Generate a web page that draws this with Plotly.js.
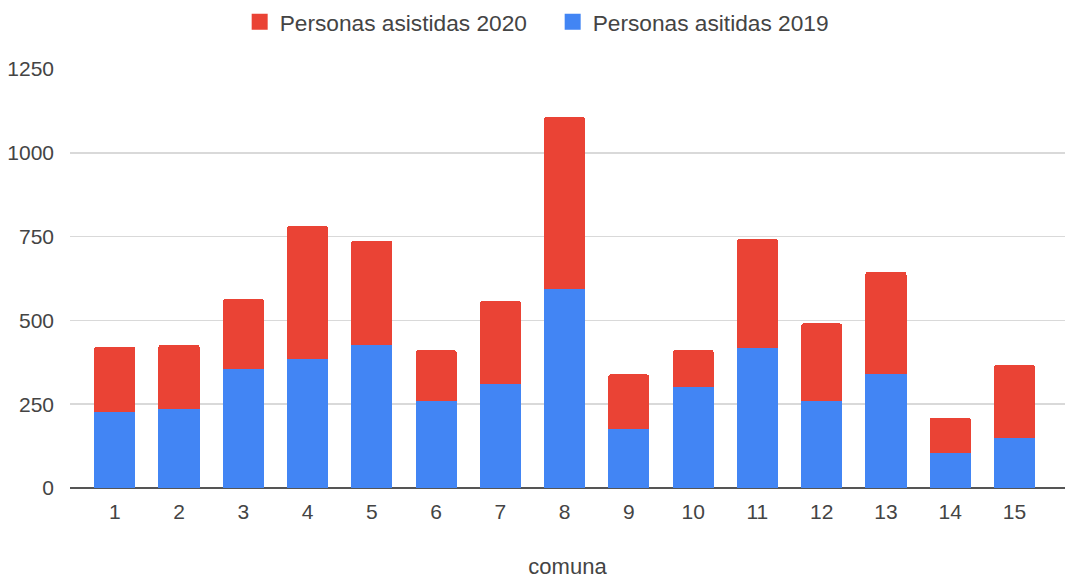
<!DOCTYPE html>
<html>
<head>
<meta charset="utf-8">
<script src="https://cdn.plot.ly/plotly-3.0.1.min.js"></script>
<style>html,body{margin:0;padding:0;background:#fff}#chart{width:1069px;height:579px}</style>
</head>
<body>
<div id="chart"></div>
<script>
const comunas = ["1","2","3","4","5","6","7","8","9","10","11","12","13","14","15"];
const asistidas2019 = [228, 237, 356, 385, 428, 260, 311, 594, 175, 300, 418, 261, 340, 104, 149];
const asistidas2020 = [194, 191, 208, 398, 310, 151, 247, 513, 164, 112, 326, 230, 305, 106, 218];
const yTicks = [0, 250, 500, 750, 1000, 1250];
const names = ["Personas asistidas 2020", "Personas asitidas 2019"];
const colors = ["#EA4335", "#4285F4"];

const traces = [
  {type: "bar", name: names[1], x: comunas, y: asistidas2019, showlegend: false,
   marker: {color: colors[1]}},
  {type: "bar", name: names[0], x: comunas, y: asistidas2020, showlegend: false,
   marker: {color: colors[0]}},
  // legend-only entries with larger square swatches
  {type: "scatter", mode: "markers", name: names[0], x: [null], y: [null],
   marker: {symbol: "square", size: 16, color: colors[0]}, hoverinfo: "skip"},
  {type: "scatter", mode: "markers", name: names[1], x: [null], y: [null],
   marker: {symbol: "square", size: 16, color: colors[1]}, hoverinfo: "skip"}
];

const layout = {
  width: 1069, height: 579,
  margin: {l: 70, r: 4, t: 69, b: 91},
  paper_bgcolor: "#fff", plot_bgcolor: "#fff",
  barmode: "stack", bargap: 0.36, barcornerradius: 3,
  font: {family: "'Liberation Sans', Arial, sans-serif", size: 21, color: "#444"},
  showlegend: true,
  legend: {orientation: "h", x: 0.517, xref: "container", xanchor: "center",
           y: 0.962, yref: "container", yanchor: "middle",
           traceorder: "normal", itemsizing: "trace", entrywidth: 268,
           font: {size: 22.7, color: "#444"}},
  xaxis: {type: "category", range: [-0.696, 14.786], showgrid: false,
          tickfont: {size: 21, color: "#444"}, ticks: "", ticklabelstandoff: 9,
          title: {text: "comuna", font: {size: 22, color: "#444"}, standoff: 43},
          showline: false, zeroline: false, automargin: false},
  yaxis: {range: [0, 1250], tickvals: yTicks, ticktext: yTicks.map(String),
          showgrid: true, gridcolor: "#d9d9d9", gridwidth: 1.5,
          zeroline: true, zerolinecolor: "#555", zerolinewidth: 2,
          tickfont: {size: 21, color: "#444"}, ticks: "", ticklabelstandoff: 15,
          automargin: false}
};

Plotly.newPlot("chart", traces, layout, {displayModeBar: false, staticPlot: true});
</script>
</body>
</html>
